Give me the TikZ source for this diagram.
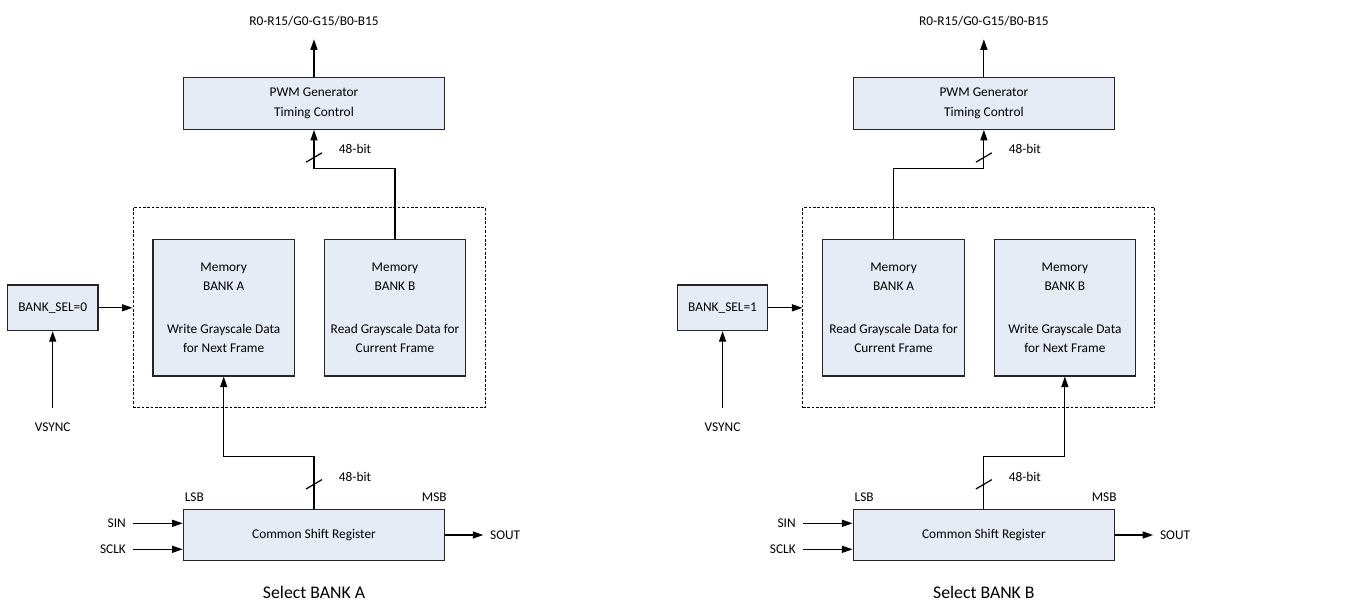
\documentclass[tikz,border=0pt]{standalone}
\usepackage{fontspec}
\setmainfont{Carlito}
\usetikzlibrary{arrows.meta}
\definecolor{riempi}{HTML}{E6ECF6}

\begin{document}
\begin{tikzpicture}[x=0.02cm,y=-0.02cm,
    font=\fontsize{7.6}{11.3}\selectfont,
    blocco/.style={draw=black!85,line width=0.7pt,fill=riempi,align=center,
                   inner sep=2pt,minimum width=5.23cm,minimum height=1.03cm},
    banco/.style={blocco,minimum width=2.83cm,minimum height=2.73cm},
    selettore/.style={blocco,minimum width=1.81cm,minimum height=0.91cm},
    cornice/.style={draw,line width=0.5pt,dash pattern=on 1.5pt off 1pt,
                    minimum width=7.04cm,minimum height=4.01cm},
    freccia/.style={line width=0.7pt,-{Triangle[length=6pt,width=4pt]}},
    filo/.style={line width=0.7pt},
    segnale/.style={inner xsep=0.13cm},
    titolo/.style={font=\fontsize{10.1}{12}\selectfont}]

  \useasboundingbox (0,0) rectangle (1348,602);

  % ---- pannello sinistro: BANK_SEL=0 ---------------------------------------
  \node[cornice] (memL)   at (309,307.7) {};
  \node[blocco]  (pwmL)   at (314,103.5) {PWM Generator\\Timing Control};
  \node[banco]   (bankAL) at (223.7,307.7)
        {Memory\\BANK A\\[0.446cm]Write Grayscale Data\\for Next Frame};
  \node[banco]   (bankBL) at (395,307.7)
        {Memory\\BANK B\\[0.446cm]Read Grayscale Data for\\Current Frame};
  \node[selettore] (selL) at (52.7,307.8) {BANK\_SEL=0};
  \node[blocco]  (shiftL) at (314,535) {Common Shift Register};

  \node (rgbL) at (314,20.7) {R0-R15/G0-G15/B0-B15};
  \coordinate (puntaL) at (314,39.3);
  \draw[freccia] (pwmL) -- (puntaL);

  \coordinate (gomitoL) at (314,168.3);
  \coordinate (taccaL)  at (314,157.5);
  \draw[freccia] (bankBL.north) |- (gomitoL) -- (pwmL.south);
  \draw[filo] ([shift={(-8,4.7)}]taccaL) -- ([shift={(8,-4.7)}]taccaL);
  \node (bitL) at (355,149) {48-bit};

  \draw[freccia] (selL.east) -- (selL.east -| memL.west);
  \coordinate (vsL) at (52.7,408.3);
  \node (vsyncL) at (52.7,427.7) {VSYNC};
  \draw[freccia] (vsL) -- (selL.south);

  \coordinate (ginocchioL) at (223.7,456.7);
  \coordinate (tacca2L)    at (314,484.3);
  \draw[freccia] (shiftL.north) |- (ginocchioL) -- (bankAL.south);
  \draw[filo] ([shift={(-8,4.7)}]tacca2L) -- ([shift={(8,-4.7)}]tacca2L);
  \node (bit2L) at (355,476.7) {48-bit};
  \node (lsbL) at (194.3,497.7) {LSB};
  \node (msbL) at (434.3,497.7) {MSB};

  \node[segnale,anchor=east] (sinL)  at (132.7,523.3) {SIN};
  \node[segnale,anchor=east] (sclkL) at (132.7,549.3) {SCLK};
  \node[segnale,anchor=west] (soutL) at (483.3,535)   {SOUT};
  \draw[freccia] (sinL.east)  -- (sinL.east -| shiftL.west);
  \draw[freccia] (sclkL.east) -- (sclkL.east -| shiftL.west);
  \draw[freccia] (shiftL.east) -- (soutL.west);
  \node[titolo] (capL) at (314,592.7) {Select BANK A};

  % ---- pannello destro: BANK_SEL=1 -----------------------------------------
  \begin{scope}[xshift=13.4cm]
  \node[cornice] (memR)   at (309,307.7) {};
  \node[blocco]  (pwmR)   at (314,103.5) {PWM Generator\\Timing Control};
  \node[banco]   (bankAR) at (223.7,307.7)
        {Memory\\BANK A\\[0.446cm]Read Grayscale Data for\\Current Frame};
  \node[banco]   (bankBR) at (395,307.7)
        {Memory\\BANK B\\[0.446cm]Write Grayscale Data\\for Next Frame};
  \node[selettore] (selR) at (52.7,307.8) {BANK\_SEL=1};
  \node[blocco]  (shiftR) at (314,535) {Common Shift Register};

  \node (rgbR) at (314,20.7) {R0-R15/G0-G15/B0-B15};
  \coordinate (puntaR) at (314,39.3);
  \draw[freccia] (pwmR) -- (puntaR);

  \coordinate (gomitoR) at (314,168.3);
  \coordinate (taccaR)  at (314,157.5);
  \draw[freccia] (bankAR.north) |- (gomitoR) -- (pwmR.south);
  \draw[filo] ([shift={(-8,4.7)}]taccaR) -- ([shift={(8,-4.7)}]taccaR);
  \node (bitR) at (355,149) {48-bit};

  \draw[freccia] (selR.east) -- (selR.east -| memR.west);
  \coordinate (vsR) at (52.7,408.3);
  \node (vsyncR) at (52.7,427.7) {VSYNC};
  \draw[freccia] (vsR) -- (selR.south);

  \coordinate (ginocchioR) at (395,456.7);
  \coordinate (tacca2R)    at (314,484.3);
  \draw[freccia] (shiftR.north) |- (ginocchioR) -- (bankBR.south);
  \draw[filo] ([shift={(-8,4.7)}]tacca2R) -- ([shift={(8,-4.7)}]tacca2R);
  \node (bit2R) at (355,476.7) {48-bit};
  \node (lsbR) at (194.3,497.7) {LSB};
  \node (msbR) at (434.3,497.7) {MSB};

  \node[segnale,anchor=east] (sinR)  at (132.7,523.3) {SIN};
  \node[segnale,anchor=east] (sclkR) at (132.7,549.3) {SCLK};
  \node[segnale,anchor=west] (soutR) at (483.3,535)   {SOUT};
  \draw[freccia] (sinR.east)  -- (sinR.east -| shiftR.west);
  \draw[freccia] (sclkR.east) -- (sclkR.east -| shiftR.west);
  \draw[freccia] (shiftR.east) -- (soutR.west);
  \node[titolo] (capR) at (314,592.7) {Select BANK B};
  \end{scope}

\end{tikzpicture}
\end{document}
